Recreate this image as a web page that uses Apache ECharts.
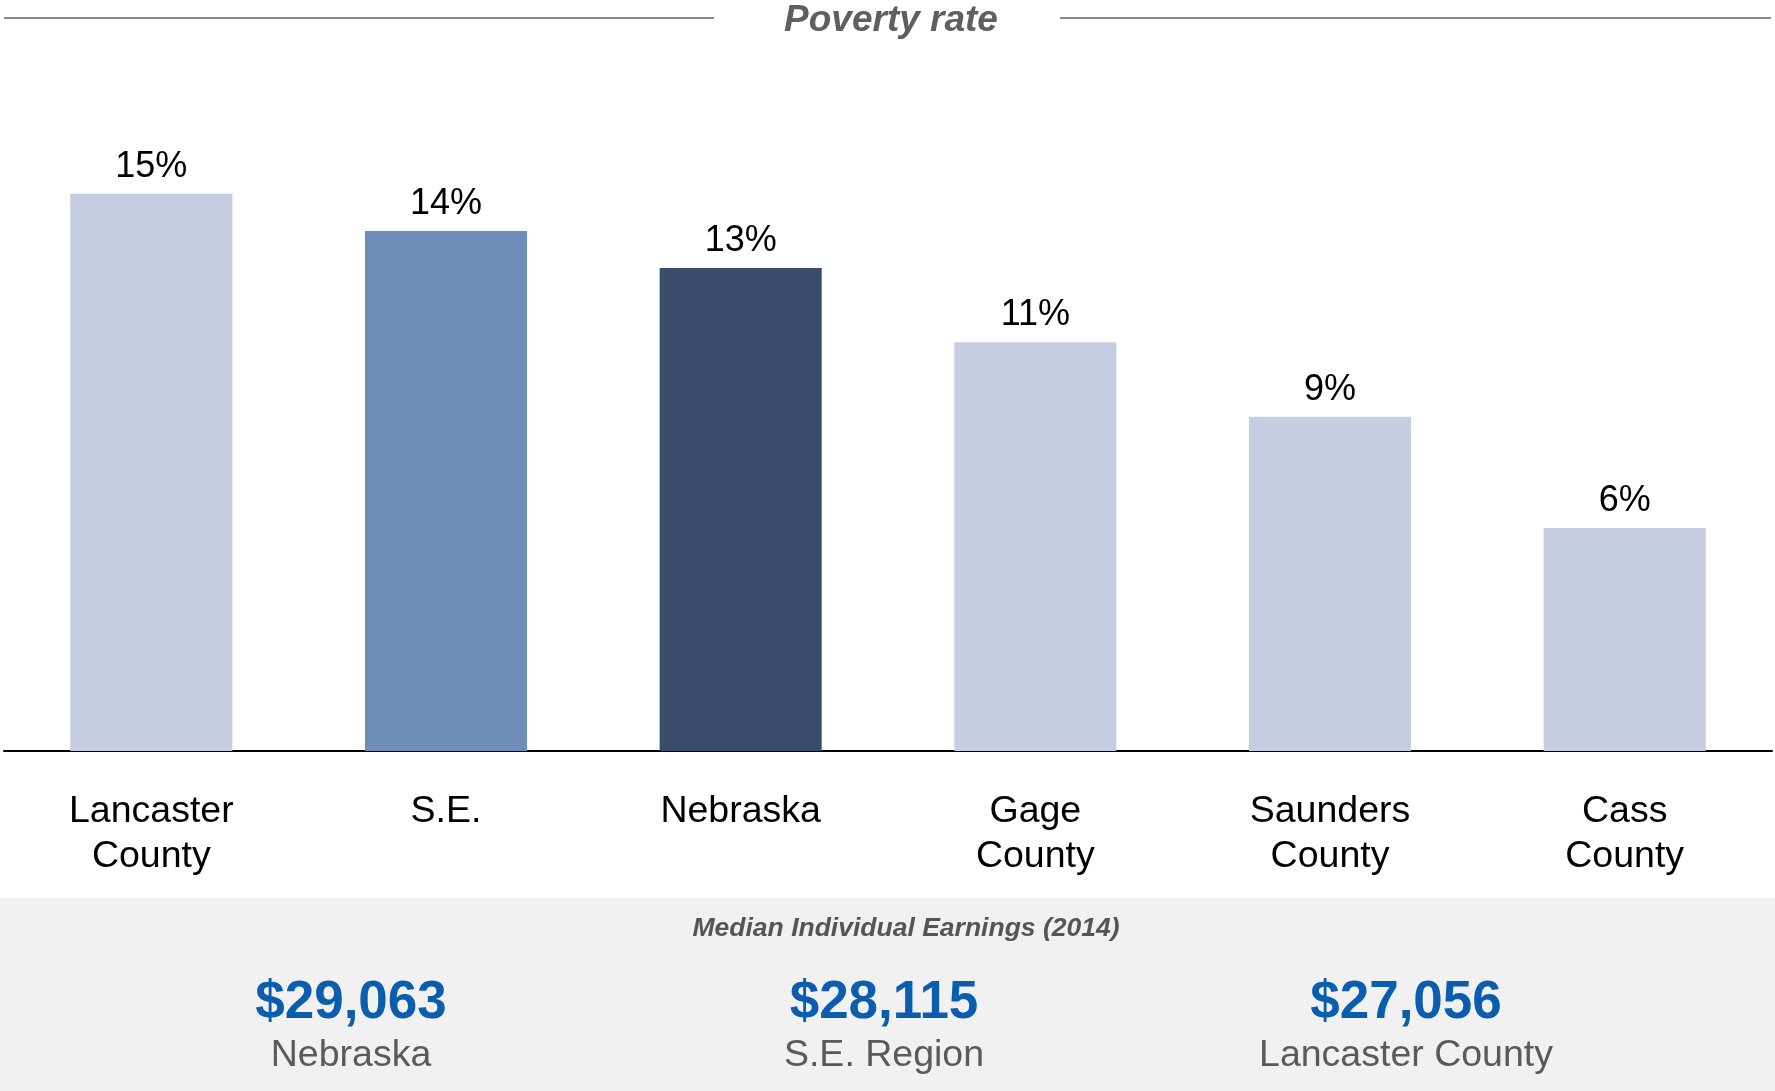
<!DOCTYPE html>
<html>
<head>
<meta charset="utf-8">
<script src="https://cdn.jsdelivr.net/npm/echarts@6/dist/echarts.min.js"></script>
<style>
  html, body { margin: 0; padding: 0; background: #ffffff; }
  #chart { width: 1775px; height: 1091px; }
</style>
</head>
<body>
<div id="chart"></div>
<script>
// Poverty rate by area (percent)
const categories = ['Lancaster\nCounty', 'S.E.', 'Nebraska', 'Gage\nCounty', 'Saunders\nCounty', 'Cass\nCounty'];
const povertyRates = [15, 14, 13, 11, 9, 6];

// Median individual earnings (2014)
const earningsValues = ['$29,063', '$28,115', '$27,056'];
const earningsPlaces = ['Nebraska', 'S.E. Region', 'Lancaster County'];

const FONT = '"Liberation Sans", Arial, Helvetica, sans-serif';
const LIGHT = '#C4CEE0';
const highlight = { 'S.E.': '#6E8DB8', 'Nebraska': '#3A4D6C' };

const chart = echarts.init(document.getElementById('chart'), null, { renderer: 'canvas' });

const barData = povertyRates.map((v, i) => ({
  value: v,
  itemStyle: { color: highlight[categories[i]] || LIGHT }
}));

// Header rule with centred title, and the grey earnings panel underneath
const earningsX = [351, 884, 1406];
const graphics = [
  { type: 'line', shape: { x1: 4, y1: 18, x2: 714, y2: 18 }, style: { stroke: '#8a8a8a', lineWidth: 2 } },
  { type: 'line', shape: { x1: 1060, y1: 18, x2: 1771, y2: 18 }, style: { stroke: '#8a8a8a', lineWidth: 2 } },
  {
    type: 'text', x: 891, y: 21,
    style: { text: 'Poverty rate', font: 'italic bold 37px ' + FONT, fill: '#5f5f5f', align: 'center', verticalAlign: 'middle' }
  },
  { type: 'rect', shape: { x: 0, y: 898, width: 1775, height: 193 }, style: { fill: '#F1F1F1' }, z: -1 },
  {
    type: 'text', x: 906, y: 929,
    style: { text: 'Median Individual Earnings (2014)', font: 'italic bold 26.5px ' + FONT, fill: '#555555', align: 'center', verticalAlign: 'middle' }
  }
];
earningsValues.forEach((val, i) => {
  graphics.push({
    type: 'text', x: earningsX[i], y: 1003,
    style: { text: val, font: 'bold 53px ' + FONT, fill: '#0B5DAE', align: 'center', verticalAlign: 'middle' }
  });
  graphics.push({
    type: 'text', x: earningsX[i], y: 1056,
    style: { text: earningsPlaces[i], font: '37.5px ' + FONT, fill: '#5a5a5a', align: 'center', verticalAlign: 'middle' }
  });
});

chart.setOption({
  animation: false,
  backgroundColor: '#ffffff',
  textStyle: { fontFamily: FONT },
  grid: { left: 4, right: 3, top: 8, bottom: 340, containLabel: false },
  xAxis: {
    type: 'category',
    data: categories,
    axisLine: { show: true, lineStyle: { color: '#000000', width: 2 } },
    axisTick: { show: false },
    axisLabel: {
      color: '#000000', fontSize: 37.5, lineHeight: 45, margin: 38,
      interval: 0, fontFamily: FONT
    }
  },
  yAxis: {
    type: 'value', min: 0, max: 20,
    show: false,
    splitLine: { show: false }
  },
  series: [{
    type: 'bar',
    data: barData,
    barWidth: '55%',
    label: {
      show: true, position: 'top', distance: 7,
      formatter: p => p.value + '%',
      color: '#000000', fontSize: 36, lineHeight: 40, fontFamily: FONT
    }
  }],
  graphic: graphics
});
</script>
</body>
</html>
